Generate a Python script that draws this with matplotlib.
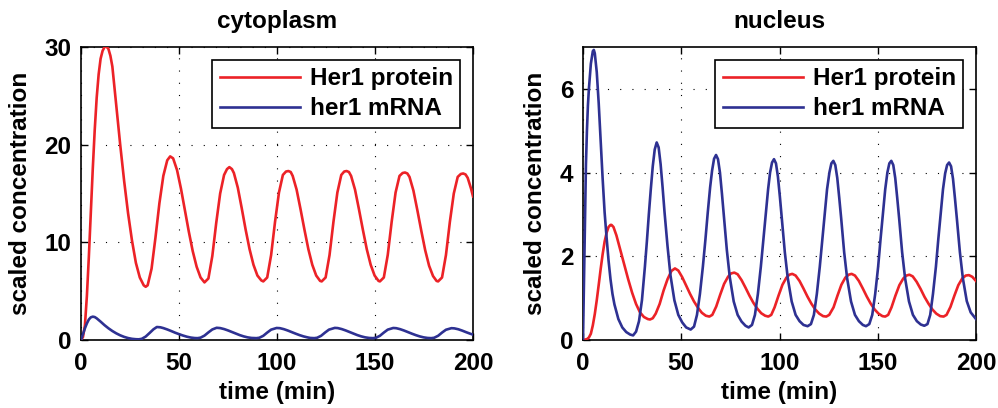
import matplotlib
matplotlib.use("Agg")
import matplotlib.pyplot as plt

plt.rcParams['font.family'] = ['Liberation Sans', 'DejaVu Sans']
plt.rcParams['font.weight'] = 'bold'
plt.rcParams['lines.scale_dashes'] = False

# ---------------- data ----------------
titles = ["cytoplasm", "nucleus"]
series_labels = ["Her1 protein", "her1 mRNA"]
xticks = [0, 50, 100, 150, 200]
yticks_cyto = [0, 10, 20, 30]
yticks_nuc = [0, 2, 4, 6]

# cytoplasm, Her1 protein
cp_t = [0, 1, 2, 3, 4, 5, 6, 7, 8, 9, 10, 11, 12, 13, 14, 15, 16, 17, 18, 20, 22, 24, 26, 28, 30, 32, 33, 34,
        36, 38, 40, 42, 44, 45.5, 47, 49, 51, 53, 55, 57, 59, 61, 63,
        65, 67, 69, 71, 73, 74.5, 75.7, 77, 78, 80, 82, 84, 86, 88, 90, 92, 93,
        95, 97, 99, 101, 103, 104.6, 105.8, 107, 108, 110, 112, 114, 116, 118, 120, 122, 122.8,
        124.8, 126.8, 128.8, 130.8, 132.8, 134.3, 135.5, 136.7, 137.8, 139.8, 141.8, 143.8, 145.8, 147.8, 149.8, 151.8, 152.5,
        154.5, 156.5, 158.5, 160.5, 162.5, 164.1, 165.3, 166.5, 167.6, 169.6, 171.6, 173.6, 175.6, 177.6, 179.6, 181.4, 182.2,
        184.2, 186.2, 188.2, 190.2, 192.2, 193.8, 195, 196.2, 197.3, 199, 200]
cp_y = [0, 0.3, 1.5, 4.5, 8.5, 13.0, 17.5, 21.5, 24.8, 27.2, 28.8, 29.6, 30.0, 30.05, 29.8, 29.1, 28.0, 26.0, 24.0, 20.0, 16.3, 13.0, 10.2, 7.9, 6.4, 5.6, 5.45, 5.6,
        7.3, 10.5, 14.0, 16.8, 18.4, 18.8, 18.6, 17.4, 15.5, 13.3, 11.1, 9.1, 7.5, 6.4, 5.9,
        6.3, 8.6, 12.0, 15.0, 16.9, 17.5, 17.7, 17.5, 17.1, 15.6, 13.5, 11.3, 9.3, 7.7, 6.6, 6.1, 6.0,
        6.4, 8.7, 12.1, 15.1, 16.9, 17.25, 17.3, 17.2, 16.8, 15.4, 13.4, 11.3, 9.3, 7.7, 6.6, 6.05, 6.0,
        6.4, 8.7, 12.1, 15.1, 16.9, 17.25, 17.3, 17.2, 16.8, 15.4, 13.4, 11.3, 9.3, 7.7, 6.6, 6.05, 6.0,
        6.4, 8.7, 12.1, 15.1, 16.8, 17.1, 17.15, 17.05, 16.7, 15.3, 13.3, 11.2, 9.2, 7.6, 6.55, 6.05, 6.0,
        6.4, 8.7, 12.1, 15.0, 16.7, 17.0, 17.05, 16.95, 16.6, 15.5, 14.7]

# cytoplasm, her1 mRNA
cm_t = [0, 1, 2, 3, 4, 5, 6, 7, 8, 10, 12, 14, 16, 18, 20, 22, 24, 26, 28, 29.5,
        31, 33, 35, 37, 38.7, 40.5, 42, 44, 46, 48, 50, 52, 54, 56, 58, 59.5,
        61, 63, 65, 67, 69.2, 71, 73, 75, 77, 79, 81, 83, 85, 87, 89.5,
        91, 93, 95, 97, 99.8, 101.5, 103.5, 105.5, 107.5, 109.5, 111.5, 113.5, 115.5, 117, 119,
        120.5, 122.5, 124.5, 126.5, 129.5, 131, 133, 135, 137, 139, 141, 143, 145, 147, 149,
        150.5, 152.5, 154.5, 156.5, 159.3, 160.8, 162.8, 164.8, 166.8, 168.8, 170.8, 172.8, 174.8, 176.8, 178.7,
        180.2, 182.2, 184.2, 186.2, 189, 190.5, 192.5, 194.5, 196.5, 198.5, 200]
cm_y = [0, 0.6, 1.2, 1.7, 2.1, 2.32, 2.39, 2.35, 2.22, 1.88, 1.52, 1.2, 0.92, 0.68, 0.48, 0.32, 0.2, 0.12, 0.08, 0.07,
        0.12, 0.35, 0.72, 1.1, 1.33, 1.3, 1.22, 1.08, 0.92, 0.75, 0.6, 0.46, 0.34, 0.25, 0.2, 0.19,
        0.24, 0.45, 0.78, 1.08, 1.25, 1.22, 1.12, 0.98, 0.82, 0.66, 0.5, 0.37, 0.27, 0.21, 0.19,
        0.23, 0.43, 0.76, 1.06, 1.23, 1.21, 1.11, 0.97, 0.81, 0.65, 0.5, 0.37, 0.27, 0.21, 0.19,
        0.23, 0.43, 0.76, 1.06, 1.24, 1.22, 1.12, 0.98, 0.82, 0.66, 0.5, 0.37, 0.27, 0.21, 0.19,
        0.23, 0.43, 0.76, 1.06, 1.23, 1.21, 1.11, 0.97, 0.81, 0.65, 0.5, 0.37, 0.27, 0.21, 0.19,
        0.23, 0.43, 0.76, 1.05, 1.21, 1.19, 1.1, 0.96, 0.8, 0.65, 0.55]

# nucleus, Her1 protein
np_t = [0, 2, 3, 4, 5, 6, 7, 8, 9, 10, 11, 12, 13, 14, 14.5, 15.5, 17, 19, 21, 23, 25, 27, 29, 31, 33, 34.1,
        35.5, 37, 39, 41, 43, 45, 46.8, 48.5, 50.5, 52.5, 54.5, 56.5, 58.5, 60.5, 62.5, 64.3,
        65.8, 67.8, 69.8, 71.8, 73.8, 75.3, 77, 78.7, 80.7, 82.7, 84.7, 86.7, 88.7, 90.7, 92.7, 94.3,
        95.8, 97.5, 99.5, 101.5, 103.5, 105, 106.5, 108.2, 110.2, 112.2, 114.2, 116.2, 118.2, 120.2, 122.2, 123.8,
        125.3, 127.5, 129.5, 131.5, 133.5, 135.2, 136.7, 138.4, 140.4, 142.4, 144.4, 146.4, 148.4, 150.4, 152.4, 153.8,
        155.3, 157, 159, 161, 163, 164.6, 166.1, 167.8, 169.8, 171.8, 173.8, 175.8, 177.8, 179.8, 181.8, 183.5,
        185, 187, 189, 191, 193, 194.8, 196.4, 198.1, 200]
np_y = [0, 0.02, 0.06, 0.15, 0.35, 0.62, 0.95, 1.32, 1.7, 2.05, 2.35, 2.56, 2.7, 2.75, 2.75, 2.7, 2.5, 2.15, 1.8, 1.45, 1.13, 0.86, 0.66, 0.55, 0.5, 0.49,
        0.52, 0.63, 0.86, 1.18, 1.45, 1.65, 1.71, 1.66, 1.5, 1.3, 1.1, 0.92, 0.77, 0.65, 0.58, 0.56,
        0.6, 0.8, 1.08, 1.34, 1.51, 1.59, 1.61, 1.57, 1.43, 1.25, 1.06, 0.89, 0.75, 0.64, 0.58, 0.56,
        0.6, 0.78, 1.06, 1.32, 1.49, 1.56, 1.58, 1.54, 1.41, 1.23, 1.04, 0.87, 0.73, 0.63, 0.57, 0.56,
        0.6, 0.78, 1.06, 1.32, 1.49, 1.56, 1.58, 1.54, 1.41, 1.23, 1.04, 0.87, 0.73, 0.63, 0.57, 0.56,
        0.6, 0.78, 1.06, 1.31, 1.47, 1.54, 1.56, 1.52, 1.39, 1.22, 1.03, 0.87, 0.73, 0.63, 0.57, 0.56,
        0.6, 0.79, 1.06, 1.31, 1.47, 1.54, 1.55, 1.51, 1.41]

# nucleus, her1 mRNA
nm_t = [0, 0.5, 1, 1.5, 2, 2.5, 3, 4, 5, 5.5, 6, 7, 8, 9, 10, 11, 12, 13, 14, 15, 16, 18, 20, 22, 24, 25.5,
        27, 28.5, 30, 31.5, 32.5, 33.5, 34.5, 35.5, 36.5, 37.5, 38.5, 39.5, 40.5, 41.5, 43, 44.5, 46.5, 48.5, 50.5, 52.5, 54.8,
        56.5, 58, 59.5, 61, 62.3, 63.5, 64.7, 65.7, 66.7, 67.7, 68.7, 69.7, 70.7, 71.7, 73.2, 74.7, 76.7, 78.7, 80.7, 82.7, 84.3,
        86, 87.5, 89, 90.5, 91.8, 93, 94.2, 95.2, 96.2, 97.2, 98.2, 99.2, 100.2, 101.2, 102.7, 104.2, 106.2, 108.2, 110.2, 112.2, 114.3,
        116, 117.5, 119, 120.5, 121.8, 123, 124.2, 125.4, 126.4, 127.4, 128.4, 129.4, 130.4, 131.4, 132.9, 134.4, 136.4, 138.4, 140.4, 142.4, 144,
        145.7, 147.2, 148.7, 150.2, 151.4, 152.6, 153.8, 154.9, 155.9, 156.9, 157.9, 158.9, 159.9, 160.9, 162.4, 163.9, 165.9, 167.9, 169.9, 171.9, 173.7,
        175.3, 176.7, 178.1, 179.6, 180.8, 182, 183.2, 184.3, 185.3, 186.3, 187.3, 188.3, 189.3, 190.3, 191.8, 193.3, 195.3, 197.3, 200]
nm_y = [0, 1.4, 2.8, 4.2, 5.0, 5.6, 6.0, 6.6, 6.9, 6.93, 6.85, 6.4, 5.65, 4.75, 3.85, 3.05, 2.45, 1.9, 1.45, 1.1, 0.85, 0.5, 0.3, 0.19, 0.13, 0.11,
        0.2, 0.45, 0.95, 1.75, 2.35, 3.0, 3.6, 4.15, 4.55, 4.72, 4.6, 4.2, 3.65, 3.05, 2.25, 1.55, 0.95, 0.6, 0.42, 0.3, 0.25,
        0.32, 0.6, 1.1, 1.75, 2.4, 3.05, 3.65, 4.05, 4.33, 4.42, 4.32, 4.0, 3.5, 2.95, 2.15, 1.5, 0.92, 0.6, 0.44, 0.34, 0.3,
        0.36, 0.6, 1.1, 1.75, 2.4, 3.0, 3.6, 4.0, 4.24, 4.32, 4.22, 3.9, 3.42, 2.9, 2.1, 1.48, 0.92, 0.6, 0.45, 0.36, 0.33,
        0.38, 0.6, 1.1, 1.75, 2.4, 3.0, 3.6, 4.0, 4.22, 4.28, 4.18, 3.87, 3.4, 2.9, 2.1, 1.48, 0.92, 0.6, 0.45, 0.36, 0.33,
        0.38, 0.6, 1.1, 1.75, 2.4, 3.0, 3.6, 4.0, 4.22, 4.28, 4.18, 3.87, 3.4, 2.9, 2.1, 1.48, 0.92, 0.6, 0.45, 0.37, 0.34,
        0.38, 0.6, 1.1, 1.75, 2.4, 3.0, 3.6, 3.98, 4.18, 4.24, 4.15, 3.85, 3.38, 2.88, 2.1, 1.48, 0.93, 0.66, 0.5]

# ---------------- styling ----------------
RED = '#ec2227'
BLUE = '#2e3192'
FS = 17.5

fig = plt.figure(figsize=(9.98, 4.08), dpi=100)
ax1 = fig.add_axes([81 / 998, 68 / 408, 392 / 998, 293 / 408])
ax2 = fig.add_axes([583 / 998, 68 / 408, 393 / 998, 293 / 408])

panels = [
    (ax1, titles[0], cp_t, cp_y, cm_t, cm_y, (0, 30), yticks_cyto),
    (ax2, titles[1], np_t, np_y, nm_t, nm_y, (0, 7), yticks_nuc),
]

for ax, title, pt, py, mt, my, ylim, yt in panels:
    ax.plot(pt, py, color=RED, lw=1.9, label=series_labels[0], zorder=3,
            solid_joinstyle='round')
    ax.plot(mt, my, color=BLUE, lw=1.9, label=series_labels[1], zorder=3,
            solid_joinstyle='round')
    ax.set_xlim(0, 200)
    ax.set_ylim(*ylim)
    ax.set_xticks(xticks)
    ax.set_yticks(yt)
    ax.grid(True, color='black', linestyle=(0, (0.8, 8.0)), linewidth=0.8, zorder=0)
    ax.set_axisbelow(True)
    ax.tick_params(direction='in', top=True, right=True, length=5, width=1.0,
                   labelsize=FS)
    ax.tick_params(axis='x', pad=9)
    ax.tick_params(axis='y', pad=7)
    for lab in ax.get_xticklabels() + ax.get_yticklabels():
        lab.set_fontweight('bold')
    for sp in ax.spines.values():
        sp.set_linewidth(1.2)
        sp.set_color('black')
    ax.set_title(title, fontsize=FS, fontweight='bold', pad=14)
    ax.set_xlabel('time (min)', fontsize=FS, fontweight='bold', labelpad=4)
    ax.set_ylabel('scaled concentration', fontsize=FS, fontweight='bold', labelpad=9)
    leg = ax.legend(loc='upper right', bbox_to_anchor=(0.967, 0.956), fontsize=FS,
                    frameon=True, fancybox=False, framealpha=1, edgecolor='black',
                    handlelength=3.3, handletextpad=0.4, labelspacing=0.3,
                    borderpad=0.3, borderaxespad=0)
    leg.get_frame().set_linewidth(1.2)
    for t in leg.get_texts():
        t.set_fontweight('bold')

fig.savefig('out.png', dpi=100)
